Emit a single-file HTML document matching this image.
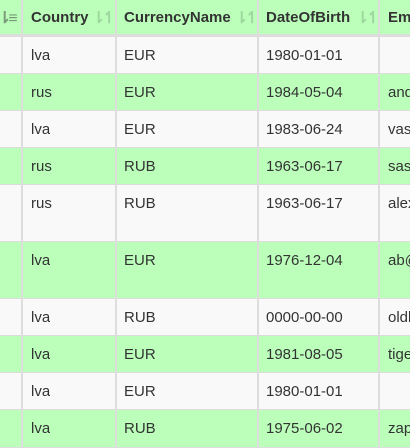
<!DOCTYPE html>
<html><head><meta charset="utf-8"><style>
body{margin:0;width:410px;height:448px;overflow:hidden;background:#f9f9f9;font-family:"Liberation Sans",sans-serif;font-size:15px;color:#333;position:relative}
.r{position:absolute;left:0;width:410px;border-bottom:1px solid #ddd;box-sizing:border-box}
.g{background:#bbffbb}.w{background:#f9f9f9}
.c{position:absolute;top:10px;white-space:nowrap;overflow:hidden}
.v{position:absolute;top:0;bottom:0;width:2px;background:#ddd}
.h{font-weight:bold;top:9px}
.ic{position:absolute;top:8px;color:#9fd89f;font-size:16px;font-weight:bold;letter-spacing:-3px}
</style></head><body>
<div class="r g" style="top:0;height:37px;border-bottom:3px solid #ddd">
 <span class="ic" style="left:-2px;color:#7a9a7a">⇂≡</span>
 <span class="c h" style="left:31px">Country</span><span class="ic" style="left:92px">⇂↿</span>
 <span class="c h" style="left:124px">CurrencyName</span><span class="ic" style="left:235px">⇂↿</span>
 <span class="c h" style="left:266px">DateOfBirth</span><span class="ic" style="left:356px">⇂↿</span>
 <span class="c h" style="left:388px">Email</span>
</div>
<div id="rows"></div>
<div class="v" style="left:21px"></div>
<div class="v" style="left:115px"></div>
<div class="v" style="left:257px"></div>
<div class="v" style="left:378px"></div>
<script>
const tops=[37,74,111,148,185,242,299,336,373,410,448];
const country=["lva","rus","lva","rus","rus","lva","lva","lva","lva","lva"];
const cur=["EUR","EUR","EUR","RUB","RUB","EUR","RUB","EUR","EUR","RUB"];
const dob=["1980-01-01","1984-05-04","1983-06-24","1963-06-17","1963-06-17","1976-12-04","0000-00-00","1981-08-05","1980-01-01","1975-06-02"];
const email=["","and","vas","sas","alex","ab@","oldb","tige","","zap"];
const box=document.getElementById('rows');
for(let i=0;i<10;i++){
 const r=document.createElement('div');
 r.className='r '+(i%2?'g':'w');
 
 
 r.style.top=tops[i]+'px';r.style.height=(tops[i+1]-tops[i])+'px';
 const cells=[[31,country[i]],[124,cur[i]],[266,dob[i]],[388,email[i]]];
 for(const [x,t] of cells){
  const s=document.createElement('span');s.className='c';
  
  
  s.style.left=x+'px';s.textContent=t;r.appendChild(s);
 }
 box.appendChild(r);
}
</script>
</body></html>
